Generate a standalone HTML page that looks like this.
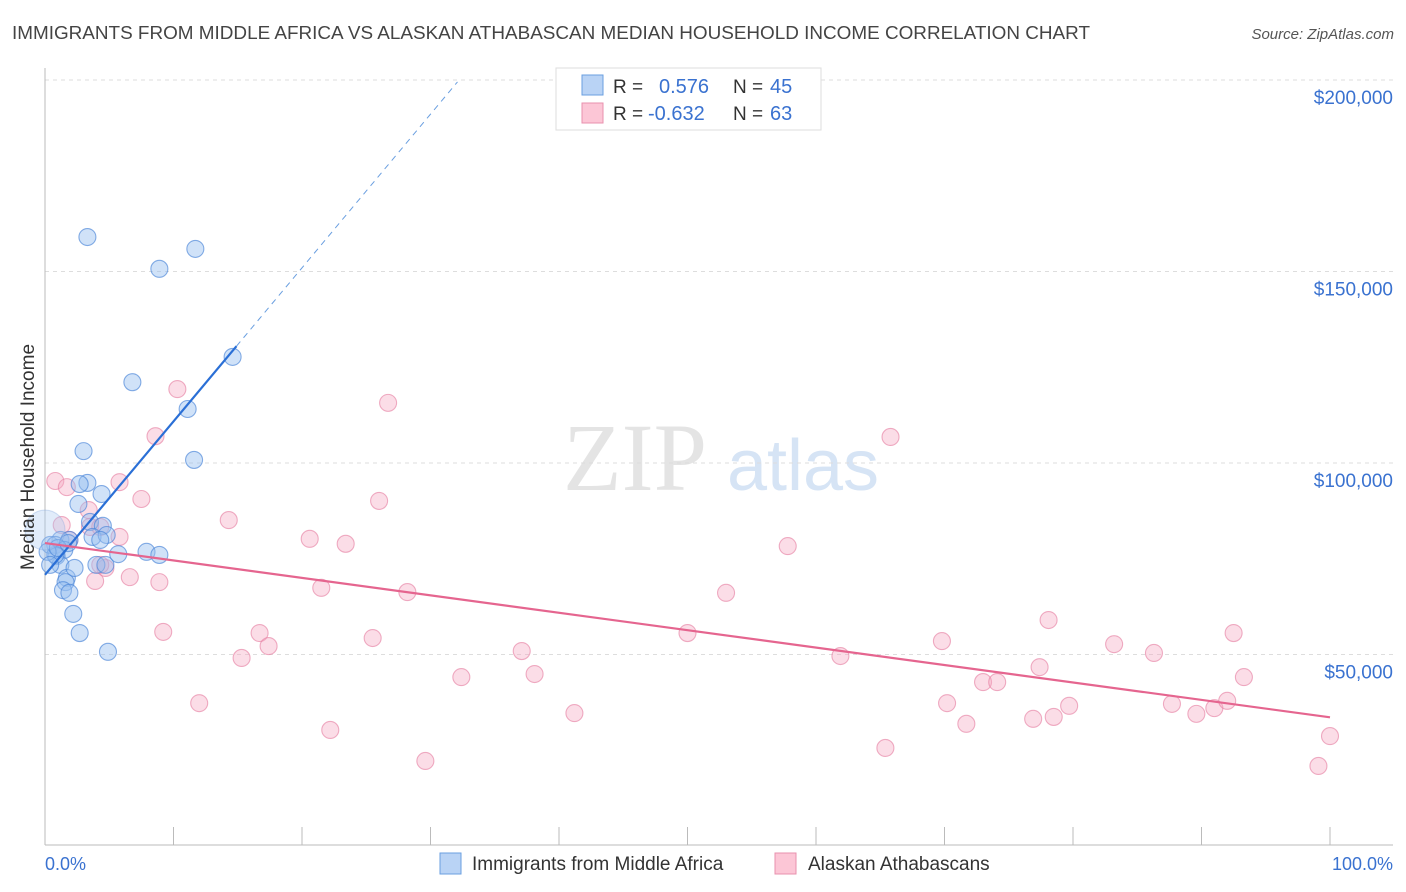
<!DOCTYPE html>
<html><head><meta charset="utf-8"><style>
body{margin:0;background:#fff;font-family:"Liberation Sans",sans-serif;}
svg{display:block}
</style></head><body>
<svg id="chart" width="1406" height="892" xmlns="http://www.w3.org/2000/svg">
<text x="12" y="39" font-size="18.9" fill="#444">IMMIGRANTS FROM MIDDLE AFRICA VS ALASKAN ATHABASCAN MEDIAN HOUSEHOLD INCOME CORRELATION CHART</text>
<text x="1394" y="39" font-size="15" fill="#555" text-anchor="end" font-style="italic">Source: ZipAtlas.com</text>
<g>
<text x="635" y="490" font-size="96" fill="#e4e4e4" font-family="Liberation Serif,serif" text-anchor="middle">ZIP</text>
<text x="803" y="490" font-size="72" fill="#d6e4f5" text-anchor="middle">atlas</text>
</g>
<g id="grid"></g>
<g id="axes"></g>
<g id="marks"></g>
<text transform="translate(34,457) rotate(-90)" font-size="19" fill="#333" text-anchor="middle">Median Household Income</text>
<text x="45" y="870" font-size="18" fill="#3a72d0">0.0%</text>
<text x="1393" y="870" font-size="18" fill="#3a72d0" text-anchor="end">100.0%</text>
<g>
<rect x="556" y="68" width="265" height="62" fill="#fff" stroke="#ddd"/>
<rect x="582" y="75" width="21" height="20" fill="#b9d3f5" stroke="#6a9fe0"/>
<rect x="582" y="103" width="21" height="20" fill="#fcc6d6" stroke="#e890ae"/>
<text x="613" y="93" font-size="19" fill="#333">R =</text>
<text x="659" y="93" font-size="20" fill="#3a72d0">0.576</text>
<text x="733" y="93" font-size="19" fill="#333">N =</text>
<text x="770" y="93" font-size="20" fill="#3a72d0">45</text>
<text x="613" y="120" font-size="19" fill="#333">R =</text>
<text x="648" y="120" font-size="20" fill="#3a72d0">-0.632</text>
<text x="733" y="120" font-size="19" fill="#333">N =</text>
<text x="770" y="120" font-size="20" fill="#3a72d0">63</text>
</g>
<g>
<rect x="440" y="853" width="21" height="21" fill="#b9d3f5" stroke="#6a9fe0"/>
<text x="472" y="870" font-size="19" fill="#333">Immigrants from Middle Africa</text>
<rect x="775" y="853" width="21" height="21" fill="#fcc6d6" stroke="#e890ae"/>
<text x="808" y="870" font-size="19" fill="#333">Alaskan Athabascans</text>
</g>
</svg>
<script>
const yTicks=[50000,100000,150000,200000];
const yTickLabels=["$50,000","$100,000","$150,000","$200,000"];
const xTicks=[0,10,20,30,40,50,60,70,80,90,100];
const blueX=[3.3,8.9,11.7,14.6,6.8,11.1,3.0,11.6,3.3,2.7,4.4,2.6,3.5,4.5,3.7,4.8,1.2,1.9,0.4,0.8,1.5,0.9,1.2,7.9,8.9,4.0,4.7,1.7,1.6,1.4,1.9,2.2,2.7,4.9,2.3,0.8,0.2,0.4,1.0,4.3,1.8,5.7,0];
const blueY=[159.0,150.7,155.9,127.7,121.1,114.1,103.1,100.8,94.8,94.5,91.9,89.3,84.6,83.6,80.7,81.2,79.9,79.9,78.6,78.6,77.3,75.7,73.4,76.8,76.0,73.4,73.4,70.0,68.9,66.8,66.1,60.6,55.6,50.7,72.6,76.0,76.8,73.4,77.8,79.9,79.1,76.2,82.5];
const pinkX=[0.8,1.7,5.8,10.3,26.7,65.8,8.6,7.5,26.0,14.3,3.4,3.5,5.8,20.6,23.4,57.8,1.3,4.3,1.9,4.7,6.6,8.9,3.9,21.5,28.2,53.0,50.0,78.1,92.5,69.8,83.2,9.2,16.7,25.5,17.4,37.1,15.3,61.9,86.3,77.4,32.4,38.1,93.3,73.0,74.1,12.0,41.2,70.2,79.7,87.7,91.0,92.0,76.9,78.5,89.6,71.7,22.2,65.4,29.6,100.0,99.1,4.3];
const pinkY=[95.3,93.7,95.0,119.3,115.7,106.8,107.0,90.6,90.1,85.1,87.7,83.3,80.7,80.2,78.9,78.3,83.8,83.3,79.9,72.6,70.2,68.9,69.2,67.4,66.3,66.1,55.6,59.0,55.6,53.5,52.7,55.9,55.6,54.3,52.2,50.9,49.1,49.6,50.4,46.7,44.1,44.9,44.1,42.8,42.8,37.3,34.7,37.3,36.6,37.1,36.0,37.9,33.2,33.7,34.5,31.9,30.3,25.6,22.2,28.7,20.9,73.4];
const blueTrend=[70.8,130.5,199.5];
const blueTrendX=[0,14.9,32.1];
const pinkTrend=[79.1,33.6];
const pinkTrendX=[0,100];
const NS="http://www.w3.org/2000/svg";
const X=p=>45+p*12.85;
const Y=v=>463-(v-100000)*191.5/50000;
function mk(t,a,parent){const e=document.createElementNS(NS,t);for(const k in a)e.setAttribute(k,a[k]);parent.appendChild(e);return e;}
const grid=document.getElementById('grid'),axes=document.getElementById('axes'),marks=document.getElementById('marks');
yTicks.forEach((v,i)=>{
 const l=mk('line',{x1:45,x2:1393,y1:Y(v),y2:Y(v),stroke:'#ddd','stroke-dasharray':'4,4'},grid);
 
 
 const t=mk('text',{x:1393,y:Y(v)+24,'font-size':19,fill:'#3a72d0','text-anchor':'end'},grid);
 t.textContent=yTickLabels[i];
 
 
});
const ya=mk('line',{x1:45,x2:45,y1:68,y2:845,stroke:'#bbb'},axes);


const xa=mk('line',{x1:45,x2:1393,y1:845,y2:845,stroke:'#bbb'},axes);


xTicks.forEach(p=>{
 const t=mk('line',{x1:X(p),x2:X(p),y1:827,y2:845,stroke:'#bbb'},axes);
 
 
});
function pts(xs,ys,fill,stroke,name){
 xs.forEach((x,i)=>{
  const big=(x===0&&name==='blue-point');
  const c=mk('circle',{cx:X(x),cy:Y(ys[i]*1000),r:big?20:8.5,fill:big?'rgba(170,200,240,0.35)':fill,stroke:big?'rgba(120,160,220,0.3)':stroke,'stroke-width':1.1},marks);
  
  
 });
}
pts(pinkX,pinkY,'rgba(246,170,195,0.4)','rgba(230,130,165,0.65)','pink-point');
pts(blueX,blueY,'rgba(150,190,240,0.45)','rgba(70,130,215,0.65)','blue-point');
const b1=mk('line',{x1:X(blueTrendX[0]),y1:Y(blueTrend[0]*1000),x2:X(blueTrendX[1]),y2:Y(blueTrend[1]*1000),stroke:'#2a6fd6','stroke-width':2.2},marks);


const b2=mk('line',{x1:X(blueTrendX[1]),y1:Y(blueTrend[1]*1000),x2:X(blueTrendX[2]),y2:Y(blueTrend[2]*1000),stroke:'#6a9fe0','stroke-width':1,'stroke-dasharray':'6,5'},marks);


const p1=mk('line',{x1:X(pinkTrendX[0]),y1:Y(pinkTrend[0]*1000),x2:X(pinkTrendX[1]),y2:Y(pinkTrend[1]*1000),stroke:'#e5658f','stroke-width':2.2},marks);


</script>
</body></html>
